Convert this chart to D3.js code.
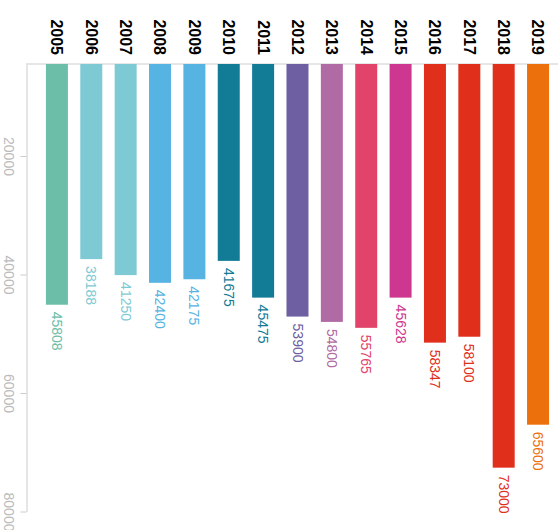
<!DOCTYPE html>
<html>
<head>
<meta charset="utf-8">
<script src="https://d3js.org/d3.v7.min.js"></script>
<style>
body { margin: 0; background: #fff; }
</style>
</head>
<body>
<script>
var years = ["2005", "2006", "2007", "2008", "2009", "2010", "2011", "2012", "2013", "2014", "2015", "2016", "2017", "2018", "2019"];
// bar lengths as read against the axis
var values = [45100, 37400, 40100, 41400, 40800, 37700, 43900, 47100, 48000, 49000, 43900, 51500, 50500, 72600, 65350];
// numbers printed under the bars
var labels = [45808, 38188, 41250, 42400, 42175, 41675, 45475, 53900, 54800, 55765, 45628, 58347, 58100, 73000, 65600];
var colors = ["#6cbea8", "#7ecad4", "#7ecad4", "#56b3e2", "#56b3e2", "#127b96", "#127b96", "#6e5ea2", "#b06aa4", "#e2436b", "#ce378f", "#e0301c", "#e0301c", "#e0301c", "#ec700b"];
var yTicks = [20000, 40000, 60000, 80000];

function init(){

	var w = 559;
	var h = 530;
	var top = 64;

	var svg = d3.select("body")
		.append("svg")
		.attr("width", w)
		.attr("height", h);

	var xScale = d3.scaleBand()
					.domain(years)
					.range([26, 558])
					.paddingInner(0.36)
					.paddingOuter(0.42)
					.align(0.69);

	var yScale = d3.scaleLinear()
					.domain([4470, 80000])
					.range([top, 511.5]);

	//top line
	svg.append("line")
		.attr("x1", 26)
		.attr("x2", 558)
		.attr("y1", top)
		.attr("y2", top)
		.attr("stroke", "#dedede")
		.attr("stroke-width", 1.5);

	//left axis
	var yAxis = d3.axisLeft(yScale)
					.tickValues(yTicks)
					.tickSize(6)
					.tickSizeOuter(0)
					.tickFormat(function(d){ return d; });

	var gy = svg.append("g")
		.attr("transform", "translate(26.5,0)")
		.call(yAxis);
	gy.select(".domain").attr("stroke", "#cccccc");
	gy.selectAll(".tick line").attr("stroke", "#cccccc");
	gy.selectAll(".tick text")
		.attr("x", null)
		.attr("transform", "translate(-18,0) rotate(90)")
		.attr("text-anchor", "middle")
		.attr("dy", "0.35em")
		.attr("font-family", "'Liberation Sans', Arial, sans-serif")
		.attr("font-size", "14px")
		.attr("fill", "#bbbbbb");

	//bars
	svg.selectAll("rect.bar")
		.data(values)
		.enter()
		.append("rect")
		.attr("class", "bar")
		.attr("x", function(d, i){ return xScale(years[i]); })
		.attr("y", top)
		.attr("width", xScale.bandwidth())
		.attr("height", function(d){ return yScale(d) - top; })
		.attr("fill", function(d, i){ return colors[i]; });

	//year labels
	svg.selectAll("text.year")
		.data(years)
		.enter()
		.append("text")
		.attr("class", "year")
		.text(function(d){ return d; })
		.attr("transform", function(d){
			return "translate(" + (xScale(d) + xScale.bandwidth() / 2) + ",55) rotate(90)";
		})
		.attr("text-anchor", "end")
		.attr("dy", "0.35em")
		.attr("font-family", "'Liberation Sans', Arial, sans-serif")
		.attr("font-size", "16px")
		.attr("font-weight", "bold")
		.attr("fill", "#000");

	//value labels
	svg.selectAll("text.value")
		.data(labels)
		.enter()
		.append("text")
		.attr("class", "value")
		.text(function(d){ return d; })
		.attr("transform", function(d, i){
			return "translate(" + (xScale(years[i]) + xScale.bandwidth() / 2) + "," + (yScale(values[i]) + 7) + ") rotate(90)";
		})
		.attr("text-anchor", "start")
		.attr("dy", "0.35em")
		.attr("font-family", "'Liberation Sans', Arial, sans-serif")
		.attr("font-size", "14px")
		.attr("fill", function(d, i){ return colors[i]; });
}
window.onload = init;
</script>
</body>
</html>
